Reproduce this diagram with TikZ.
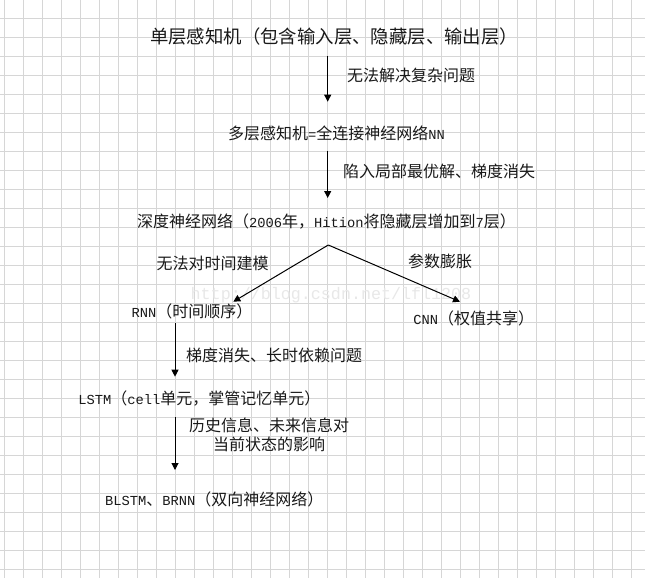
\documentclass[tikz,border=0pt]{standalone}
\usepackage{fontspec}
\setmainfont{Noto Sans CJK SC}
\newfontfamily\enfont{Liberation Mono}[Scale=0.86]
\newfontfamily\wmfont{Liberation Mono}
\newcommand\en[1]{{\enfont #1}}
\usetikzlibrary{arrows.meta}
\tikzset{
  gridline/.style={draw=black!16, line width=0.9bp},
  txt/.style={inner sep=0pt, outer sep=0pt, font=\fontsize{16bp}{19.3bp}\selectfont, text=black!90},
  titletxt/.style={txt, font=\fontsize{18.4bp}{22bp}\selectfont},
  arr/.style={draw=black, line width=1bp, -{Triangle[length=7bp,width=7bp]}},
}
\begin{document}
\begin{tikzpicture}[x=1bp,y=-1bp]
\useasboundingbox (0,0) rectangle (645,578);
\fill[white] (0,0) rectangle (645,578);
\begin{scope}
\clip (0,0) rectangle (645,578);
\foreach \k in {0,...,33} \draw[gridline] ({4.3+19*\k},0) -- ({4.3+19*\k},578);
\foreach \k in {0,...,30} \draw[gridline] (0,{-0.7+19*\k}) -- (645,{-0.7+19*\k});
\end{scope}
% watermark
\node[inner sep=0pt, text=black!9, font=\wmfont\fontsize{16.7bp}{18bp}\selectfont] (wm) at (331,295) {http://blog.csdn.net/lfl1208};
% nodes
\node[titletxt] (slp) at (334,36.7) {单层感知机（包含输入层、隐藏层、输出层）};
\node[txt, anchor=west] (mlp) at (228,133) {多层感知机\en{=}全连接神经网络\en{NN}};
\node[txt, anchor=west] (dnn) at (137,221.7) {深度神经网络（\en{2006}年，\en{Hition}将隐藏层增加到\en{7}层）};
\node[txt, anchor=west] (rnn) at (131.7,311.7) {\en{RNN}（时间顺序）};
\node[txt, anchor=west] (cnn) at (413.3,318.3) {\en{CNN}（权值共享）};
\node[txt, anchor=west] (lstm) at (78.3,398.3) {\en{LSTM}（\en{cell}单元，掌管记忆单元）};
\node[txt, anchor=west] (blstm) at (105,499) {\en{BLSTM}、\en{BRNN}（双向神经网络）};
% labels
\node[txt, anchor=west] (l1) at (347,75) {无法解决复杂问题};
\node[txt, anchor=west] (l2) at (343,171.7) {陷入局部最优解、梯度消失};
\node[txt, anchor=west] (l3) at (156.7,263.3) {无法对时间建模};
\node[txt, anchor=west] (l4) at (408,261.7) {参数膨胀};
\node[txt, anchor=west] (l5) at (186,355) {梯度消失、长时依赖问题};
\node[txt, align=center] (l6) at (269,434.7) {历史信息、未来信息对\\当前状态的影响};
% connector end points
\coordinate (a1s) at (327.7,56);
\coordinate (a1e) at (327.7,101.7);
\coordinate (a2s) at (327.7,151);
\coordinate (a2e) at (327.7,198);
\coordinate (apex) at (328.3,245);
\coordinate (tipr) at (233.3,301.7);
\coordinate (tipc) at (460,301.7);
\coordinate (a3s) at (175,323);
\coordinate (a3e) at (175,376.7);
\coordinate (a4s) at (175,417.3);
\coordinate (a4e) at (175,470);
% connectors
\draw[arr] (a1s) -- (a1e);
\draw[arr] (a2s) -- (a2e);
\draw[arr] (apex) -- (tipr);
\draw[arr] (apex) -- (tipc);
\draw[arr] (a3s) -- (a3e);
\draw[arr] (a4s) -- (a4e);
\end{tikzpicture}
\end{document}
